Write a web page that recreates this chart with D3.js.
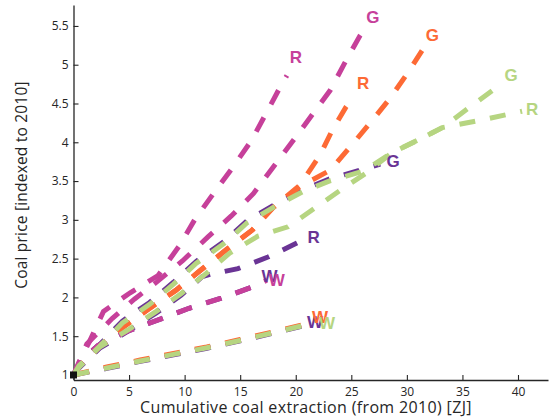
<!DOCTYPE html>
<html>
<head>
<meta charset="utf-8">
<script src="https://cdn.jsdelivr.net/npm/d3@7"></script>
<style>
  body { margin: 0; background: #fff; }
  svg { display: block; }
</style>
</head>
<body>
<svg id="chart" width="559" height="418"></svg>
<script>
// Tick values
const xTicks = [0, 5, 10, 15, 20, 25, 30, 35, 40];
const yTicks = [1, 1.5, 2, 2.5, 3, 3.5, 4, 4.5, 5, 5.5];

// Price paths: [cumulative extraction (ZJ), price index]
const magentaR = [[0,1],[0.8,1.25],[1.5,1.45],[2.7,1.82],[5.1,2.06],[7.6,2.28],[9.5,2.66],[10.9,3.0],[12.7,3.36],[14.35,3.68],[16,4.02],[17.4,4.39],[18.7,4.74],[19.2,4.86]];
const magentaG = [[0,1],[1.2,1.4],[3.5,1.73],[5.5,1.98],[7.5,2.2],[9.8,2.47],[12.1,2.78],[14.2,3.05],[16.2,3.34],[19.6,3.99],[23.1,4.67],[24.4,5.02],[25.8,5.38],[26.3,5.48]];
const magentaW = [[0,1],[1,1.22],[2.2,1.38],[4.8,1.56],[8,1.73],[10.4,1.86],[13.3,1.99],[16,2.13],[17.4,2.22]];

const orangeR = [[0,1],[0.5,1.11],[2.35,1.365],[4.5,1.62],[6.8,1.855],[9.2,2.09],[11.35,2.34],[13.8,2.62],[16.1,2.87],[17.9,3.15],[20.4,3.45],[22.2,3.84],[23.3,4.16],[24.5,4.45],[25.25,4.6]];
const orangeG = [[0,1],[0.5,1.11],[2.35,1.365],[4.5,1.62],[6.8,1.855],[9.2,2.09],[11.35,2.34],[13.8,2.62],[16.1,2.87],[17.9,3.15],[20.4,3.43],[23.1,3.64],[24.9,3.94],[26.7,4.25],[28.5,4.57],[30.1,4.9],[31.4,5.19]];
const orangeW = [[0,1],[3,1.102],[6,1.192],[9,1.277],[12,1.362],[15,1.457],[18,1.557],[21.2,1.667]];

const greenG = [[0,1],[0.5,1.12],[2.35,1.37],[4.4,1.67],[6.85,1.91],[9.0,2.17],[11.05,2.44],[13.6,2.70],[15.6,2.96],[18.1,3.17],[20.6,3.36],[23,3.5],[26.1,3.63],[28.6,3.86],[31.3,4.05],[33.2,4.19],[36.1,4.5],[38.66,4.77]];
const greenR = [[0,1],[0.5,1.1],[2.35,1.36],[4.9,1.58],[7.45,1.82],[9.7,2.05],[11.95,2.31],[14.05,2.57],[16.6,2.79],[19.3,2.91],[21.7,3.15],[24,3.38],[26.3,3.6],[28.6,3.86],[31.3,4.05],[33.2,4.19],[36.8,4.29],[40.37,4.4]];
const greenW = [[0,1],[3,1.09],[6,1.18],[9,1.265],[12,1.35],[15,1.445],[18,1.545],[21.2,1.655]];

const purpleG = [[0,1],[0.5,1.13],[2.35,1.39],[4.4,1.695],[6.85,1.935],[9.0,2.195],[11.05,2.465],[13.6,2.725],[15.6,2.985],[18.1,3.195],[20.6,3.385],[23,3.525],[26.1,3.655],[27.6,3.72]];
const purpleR = [[0,1],[0.5,1.09],[2.35,1.345],[4.9,1.565],[7.45,1.8],[9.7,2.03],[11.6,2.27],[12.4,2.3],[14.8,2.37],[17.5,2.52],[20.1,2.7],[20.8,2.75]];
const purpleWmid = [[0,1],[1,1.22],[2.2,1.38],[4.8,1.56],[8,1.73],[10.4,1.86],[13.3,1.99],[16,2.13],[17.0,2.2]];
const purpleWlow = [[0,1],[3,1.085],[6,1.175],[9,1.26],[12,1.345],[15,1.44],[18,1.54],[21.2,1.65]];

const colors = { magenta: "#c6409a", orange: "#fd6a35", green: "#b6d581", purple: "#6a3495" };

// Drawing order, bottom to top
const series = [
  { id: "purpleWlow", color: colors.purple,  label: "W", pts: purpleWlow },
  { id: "purpleWmid", color: colors.purple,  label: "W", pts: purpleWmid },
  { id: "purpleR",    color: colors.purple,  label: "R", pts: purpleR },
  { id: "purpleG",    color: colors.purple,  label: "G", pts: purpleG },
  { id: "orangeW",    color: colors.orange,  label: "W", pts: orangeW },
  { id: "orangeR",    color: colors.orange,  label: "R", pts: orangeR },
  { id: "orangeG",    color: colors.orange,  label: "G", pts: orangeG },
  { id: "magentaW",   color: colors.magenta, label: "W", pts: magentaW },
  { id: "magentaR",   color: colors.magenta, label: "R", pts: magentaR },
  { id: "magentaG",   color: colors.magenta, label: "G", pts: magentaG },
  { id: "greenW",     color: colors.green,   label: "W", pts: greenW },
  { id: "greenR",     color: colors.green,   label: "R", pts: greenR },
  { id: "greenG",     color: colors.green,   label: "G", pts: greenG }
];

// Pixel nudges for the end-of-line letters
const labelNudge = {
  purpleWlow: [6, -2], purpleWmid: [7, -5], purpleR: [9, -2], purpleG: [13, -2],
  orangeW: [11, -6], orangeR: [9, -12], orangeG: [10, -14],
  magentaW: [10, 0], magentaR: [9, -18], magentaG: [7, -10],
  greenW: [18, -1], greenR: [10, -2], greenG: [8, -7]
};

const svg = d3.select("#chart");
const x = d3.scaleLinear().domain([0, 42.7]).range([73.5, 548]);
const y = d3.scaleLinear().domain([0.935, 5.77]).range([380, 5]);

const axisColor = "#262626";
const tickFont = "'Open Sans', sans-serif";

// Axes with inward ticks
const gx = svg.append("g").attr("transform", "translate(0,380)")
  .call(d3.axisBottom(x).tickValues(xTicks).tickFormat(d3.format("d"))
    .tickSizeInner(-5).tickSizeOuter(0).tickPadding(7));
const gy = svg.append("g").attr("transform", "translate(73.5,0)")
  .call(d3.axisLeft(y).tickValues(yTicks).tickFormat(d => String(d))
    .tickSizeInner(-5).tickSizeOuter(0).tickPadding(5));

[gx, gy].forEach(g => {
  g.select(".domain").attr("stroke", axisColor).attr("stroke-width", 1.3);
  g.selectAll(".tick line").attr("stroke", axisColor).attr("stroke-width", 1.1);
  g.selectAll(".tick text").attr("fill", axisColor)
    .style("font-family", tickFont).style("font-size", "12px");
});

// Axis titles
svg.append("text")
  .attr("x", 306).attr("y", 413)
  .attr("text-anchor", "middle")
  .style("font-family", tickFont).style("font-size", "16px")
  .style("letter-spacing", "0.35px")
  .attr("fill", axisColor)
  .text("Cumulative coal extraction (from 2010) [ZJ]");

svg.append("text")
  .attr("transform", "translate(27,185) rotate(-90)")
  .attr("text-anchor", "middle")
  .style("font-family", tickFont).style("font-size", "15.5px")
  .style("letter-spacing", "0.2px")
  .attr("fill", axisColor)
  .text("Coal price [indexed to 2010]");

// Dashed price paths
const line = d3.line().x(d => x(d[0])).y(d => y(d[1]));
const plot = svg.append("g");
plot.selectAll("path.series")
  .data(series)
  .join("path")
  .attr("class", "series")
  .attr("d", d => line(d.pts))
  .attr("fill", "none")
  .attr("stroke", d => d.color)
  .attr("stroke-width", 5)
  .attr("stroke-dasharray", "16,15")
  .attr("stroke-linejoin", "miter")
  .attr("stroke-miterlimit", 4);

// Scenario letters at the end of each path
plot.selectAll("text.lbl")
  .data(series)
  .join("text")
  .attr("class", "lbl")
  .attr("x", d => x(d.pts[d.pts.length - 1][0]) + labelNudge[d.id][0])
  .attr("y", d => y(d.pts[d.pts.length - 1][1]) + labelNudge[d.id][1])
  .attr("text-anchor", "middle")
  .attr("dominant-baseline", "central")
  .style("font-family", "'Liberation Sans', Arial, sans-serif")
  .style("font-weight", "bold")
  .style("font-size", "17px")
  .attr("fill", d => d.color)
  .text(d => d.label);

// Starting point marker
svg.append("rect")
  .attr("x", x(0) - 3.5).attr("y", y(1) - 3.5)
  .attr("width", 7).attr("height", 7)
  .attr("fill", "#111");
</script>
</body>
</html>
